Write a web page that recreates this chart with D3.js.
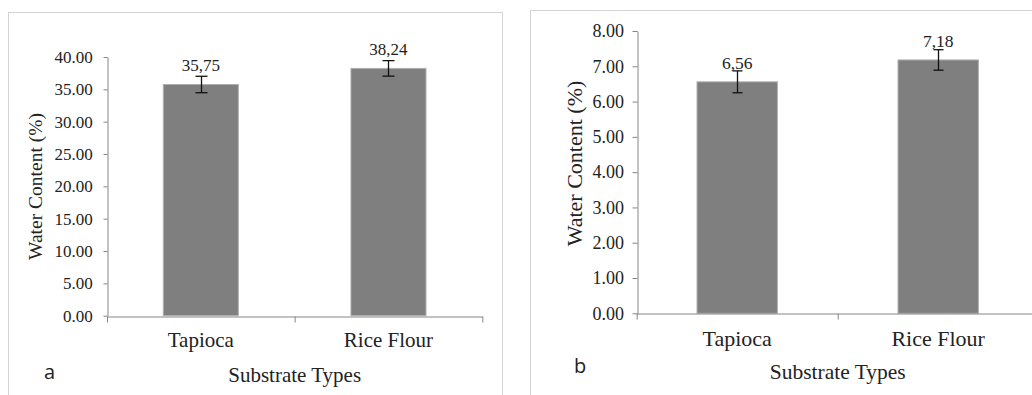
<!DOCTYPE html>
<html>
<head>
<meta charset="utf-8">
<script src="https://cdn.jsdelivr.net/npm/d3@7"></script>
<style>
  html, body { margin: 0; padding: 0; background: #fff; }
  svg { display: block; }
</style>
</head>
<body>
<script>
// ---- Data ----
const categories = ["Tapioca", "Rice Flour"];
const valuesA = [35.75, 38.24];
const errorsA = [1.27, 1.20];
const labelsA = ["35,75", "38,24"];
const ticksA = [0, 5, 10, 15, 20, 25, 30, 35, 40];
const valuesB = [6.56, 7.18];
const errorsB = [0.31, 0.29];
const labelsB = ["6,56", "7,18"];
const ticksB = [0, 1, 2, 3, 4, 5, 6, 7, 8];
const yTitle = "Water Content (%)";
const xTitle = "Substrate Types";
const panelNames = ["a", "b"];

const SERIF = "'Liberation Serif', 'Times New Roman', Times, serif";
const SANS = "'Open Sans', 'Noto Sans', sans-serif";

const W = 1032, H = 395;
const svg = d3.select("body").append("svg").attr("width", W).attr("height", H);

const panels = [
  {
    name: panelNames[0], values: valuesA, errors: errorsA, labels: labelsA, ticks: ticksA,
    box: [8.5, 12.5, 494, 400],
    xr: [107, 482.3], yr: [315.7, 57], ymax: 40,
    tickSize: 4, tickPad: 10.7, tickFont: 17, valFont: 17, valOff: 13, cap: 6,
    catFont: 21, catY: 347.3, titleFont: 21, titleY: 381.7,
    yTitleFont: 19.5, yTitleX: 42, yTitleY: 186.5,
    tagX: 44, tagY: 379
  },
  {
    name: panelNames[1], values: valuesB, errors: errorsB, labels: labelsB, ticks: ticksB,
    box: [530.5, 10.5, 520, 400],
    xr: [636.7, 1038.7], yr: [313.3, 31], ymax: 8,
    tickSize: 5, tickPad: 8.4, tickFont: 18, valFont: 17.5, valOff: 12.5, cap: 5,
    catFont: 22, catY: 345.5, titleFont: 21.5, titleY: 378.5,
    yTitleFont: 22, yTitleX: 581.5, yTitleY: 163.5,
    tagX: 574, tagY: 373.3
  }
];

panels.forEach(p => {
  const g = svg.append("g");
  // panel border
  g.append("rect")
    .attr("x", p.box[0]).attr("y", p.box[1])
    .attr("width", p.box[2]).attr("height", p.box[3])
    .attr("fill", "#fff").attr("stroke", "#d4d4d4").attr("stroke-width", 1);

  const x = d3.scaleBand().domain(categories).range(p.xr)
    .paddingInner(0.6).paddingOuter(0.3);
  const xEdge = d3.scaleLinear().domain([0, categories.length]).range(p.xr);
  const y = d3.scaleLinear().domain([0, p.ymax]).range(p.yr);

  // bars
  g.selectAll("rect.bar").data(p.values).join("rect")
    .attr("class", "bar")
    .attr("x", (d, i) => x(categories[i]))
    .attr("y", d => y(d))
    .attr("width", x.bandwidth())
    .attr("height", d => y(0) - y(d))
    .attr("fill", "#7f7f7f")
    .attr("stroke", "#b0b0b0").attr("stroke-width", 1);

  // y axis
  const ya = g.append("g")
    .attr("transform", `translate(${Math.round(p.xr[0]) + 0.5},0)`)
    .call(d3.axisLeft(y).tickValues(p.ticks).tickFormat(d3.format(".2f"))
      .tickSize(p.tickSize).tickSizeOuter(0).tickPadding(p.tickPad));
  ya.attr("font-family", null).attr("font-size", null);
  ya.select(".domain").attr("stroke", "#868686");
  ya.selectAll(".tick line").attr("stroke", "#868686");
  ya.selectAll(".tick text")
    .style("font-family", SERIF).style("font-size", p.tickFont + "px")
    .attr("fill", "#222");

  // x axis (tick marks at category boundaries)
  const xa = g.append("g")
    .attr("transform", `translate(0,${Math.round(y(0)) + 0.5})`)
    .call(d3.axisBottom(xEdge).tickValues(d3.range(categories.length + 1))
      .tickFormat("").tickSize(6).tickSizeOuter(0));
  xa.select(".domain").attr("stroke", "#868686");
  xa.selectAll(".tick line").attr("stroke", "#868686");

  // error bars
  const eb = g.selectAll("g.err").data(p.values).join("g").attr("class", "err");
  eb.each(function (d, i) {
    const cx = Math.round(x(categories[i]) + x.bandwidth() / 2) + 0.5;
    const top = y(d + p.errors[i]), bot = y(d - p.errors[i]);
    const s = d3.select(this);
    s.append("line").attr("x1", cx).attr("x2", cx).attr("y1", top).attr("y2", bot);
    s.append("line").attr("x1", cx - p.cap).attr("x2", cx + p.cap).attr("y1", top).attr("y2", top);
    s.append("line").attr("x1", cx - p.cap).attr("x2", cx + p.cap).attr("y1", bot).attr("y2", bot);
    s.selectAll("line").attr("stroke", "#111").attr("stroke-width", 1.3);
  });

  // value labels
  g.selectAll("text.val").data(p.values).join("text")
    .attr("class", "val")
    .attr("x", (d, i) => x(categories[i]) + x.bandwidth() / 2)
    .attr("y", d => y(d) - p.valOff)
    .attr("text-anchor", "middle")
    .style("font-family", SERIF).style("font-size", p.valFont + "px")
    .attr("fill", "#222")
    .text((d, i) => p.labels[i]);

  // category labels
  g.selectAll("text.cat").data(categories).join("text")
    .attr("class", "cat")
    .attr("x", d => x(d) + x.bandwidth() / 2)
    .attr("y", p.catY)
    .attr("text-anchor", "middle")
    .style("font-family", SERIF).style("font-size", p.catFont + "px")
    .attr("fill", "#222")
    .text(d => d);

  // x title
  g.append("text")
    .attr("x", xEdge(categories.length / 2))
    .attr("y", p.titleY)
    .attr("text-anchor", "middle")
    .style("font-family", SERIF).style("font-size", p.titleFont + "px")
    .attr("fill", "#222")
    .text(xTitle);

  // y title
  g.append("text")
    .attr("transform", `translate(${p.yTitleX},${p.yTitleY}) rotate(-90)`)
    .attr("text-anchor", "middle")
    .style("font-family", SERIF).style("font-size", p.yTitleFont + "px")
    .attr("fill", "#222")
    .text(yTitle);

  // panel tag
  g.append("text")
    .attr("x", p.tagX).attr("y", p.tagY)
    .style("font-family", SANS).style("font-size", "20px")
    .attr("fill", "#222")
    .text(p.name);
});
</script>
</body>
</html>
